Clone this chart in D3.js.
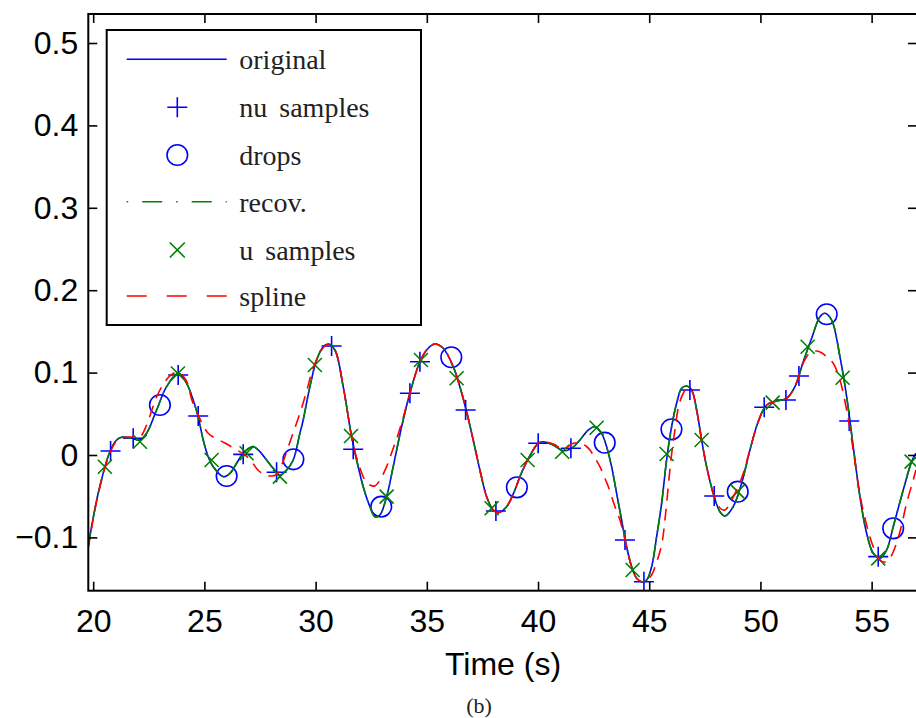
<!DOCTYPE html>
<html><head><meta charset="utf-8">
<script src="https://cdn.jsdelivr.net/npm/d3@7"></script>
<style>
html,body{margin:0;padding:0;background:#fff;}
svg{display:block;}
</style></head>
<body>
<svg id="chart" width="916" height="718"></svg>
<script>
// ---------- data ----------
const xTicks = [20, 25, 30, 35, 40, 45, 50, 55];
const yTicks = [-0.1, 0, 0.1, 0.2, 0.3, 0.4, 0.5];

const origT = [19.762,20.225,20.751,21.052,21.277,21.727,22.100,22.401,22.851,23.300,
23.822,24.200,24.496,24.721,24.946,25.171,25.396,25.845,26.147,26.448,
26.745,27.194,27.495,27.797,28.094,28.395,28.696,28.993,29.294,29.442,
29.744,30.045,30.342,30.567,30.868,31.241,31.619,31.844,32.140,32.442,
32.667,32.891,33.192,33.489,33.867,34.240,34.690,35.063,35.364,35.737,
36.187,36.488,36.790,37.086,37.387,37.689,37.986,38.210,38.588,38.961,
39.186,39.532,40.009,40.234,40.683,41.133,41.511,41.884,42.257,42.558,
42.860,43.084,43.309,43.534,43.759,43.984,44.209,44.434,44.658,44.883,
45.108,45.333,45.558,45.782,46.007,46.232,46.457,46.682,46.907,47.132,
47.356,47.581,47.878,48.179,48.404,48.777,49.155,49.528,49.901,50.279,
50.729,51.178,51.551,51.925,52.302,52.676,52.900,53.201,53.575,53.876,
54.173,54.474,54.775,55.072,55.373,55.674,55.971,56.421,56.798,56.992];
const origV = [-0.1129,-0.0465,0.0040,0.0182,0.0215,0.0203,0.0182,0.0263,0.0546,0.0829,
0.0992,0.0870,0.0667,0.0465,0.0182,-0.0021,-0.0142,-0.0263,-0.0222,-0.0101,
0.0021,0.0101,0.0040,-0.0061,-0.0161,-0.0243,-0.0182,-0.0061,0.0263,0.0425,
0.0829,0.1153,0.1314,0.1347,0.1274,0.0829,0.0222,-0.0061,-0.0385,-0.0627,
-0.0749,-0.0728,-0.0506,-0.0142,0.0343,0.0749,0.1132,0.1295,0.1347,0.1295,
0.1072,0.0829,0.0525,0.0182,-0.0182,-0.0506,-0.0667,-0.0700,-0.0627,-0.0425,
-0.0263,-0.0061,0.0142,0.0161,0.0121,0.0052,0.0081,0.0182,0.0303,0.0343,
0.0263,0.0101,-0.0142,-0.0465,-0.0789,-0.1113,-0.1356,-0.1496,-0.1538,-0.1517,
-0.1356,-0.0992,-0.0586,-0.0061,0.0343,0.0627,0.0809,0.0837,0.0789,0.0546,
0.0182,-0.0142,-0.0465,-0.0688,-0.0740,-0.0627,-0.0343,0.0061,0.0404,0.0607,
0.0655,0.0688,0.0829,0.1132,0.1416,0.1678,0.1720,0.1638,0.1193,0.0708,
0.0101,-0.0506,-0.0950,-0.1193,-0.1254,-0.1153,-0.0870,-0.0425,-0.0081,0.0021];

// recovered signal coincides with the original in the picture
const recovT = origT.slice();
const recovV = origV.slice();

const splT = [19.762,20.225,20.751,21.052,21.277,21.727,22.100,22.401,22.639,22.851,
23.134,23.449,23.808,24.168,24.438,24.663,24.933,25.157,25.472,25.922,
26.448,26.821,27.136,27.406,27.721,27.990,28.215,28.530,28.800,29.069,
29.370,29.609,29.834,30.104,30.374,30.599,30.868,31.241,31.619,31.844,
31.992,32.217,32.442,32.667,32.891,33.192,33.431,33.701,33.971,34.240,
34.690,35.050,35.364,35.737,36.187,36.488,36.790,37.086,37.387,37.689,
37.986,38.210,38.588,38.961,39.186,39.532,40.009,40.234,40.683,41.133,
41.583,41.884,42.154,42.334,42.558,42.783,42.963,43.163,43.459,43.684,
43.984,44.209,44.434,44.658,44.883,45.108,45.333,45.558,45.706,45.841,
45.976,46.156,46.336,46.561,46.741,46.921,47.132,47.356,47.581,47.878,
48.179,48.404,48.777,49.155,49.528,49.901,50.279,50.729,51.178,51.551,
51.925,52.226,52.527,52.766,53.035,53.274,53.575,53.876,54.173,54.474,
54.775,55.072,55.373,55.598,55.823,56.093,56.318,56.574,56.871,56.992];
const splV = [-0.1153,-0.0473,0.0024,0.0170,0.0206,0.0218,0.0218,0.0364,0.0546,0.0704,
0.0850,0.0959,0.1007,0.0910,0.0667,0.0522,0.0364,0.0267,0.0206,0.0146,
0.0061,0.0000,-0.0085,-0.0182,-0.0243,-0.0255,-0.0243,-0.0085,0.0121,0.0328,
0.0570,0.0789,0.1007,0.1189,0.1311,0.1347,0.1274,0.0829,0.0222,-0.0036,
-0.0158,-0.0303,-0.0364,-0.0376,-0.0303,-0.0142,0.0036,0.0243,0.0485,0.0752,
0.1129,0.1298,0.1347,0.1295,0.1072,0.0829,0.0525,0.0182,-0.0182,-0.0506,
-0.0667,-0.0700,-0.0627,-0.0425,-0.0263,-0.0061,0.0142,0.0161,0.0133,0.0073,
0.0142,0.0146,0.0109,0.0061,-0.0036,-0.0142,-0.0255,-0.0385,-0.0627,-0.0789,
-0.1113,-0.1356,-0.1496,-0.1538,-0.1517,-0.1456,-0.1299,-0.1092,-0.0789,-0.0425,
-0.0061,0.0303,0.0607,0.0765,0.0813,0.0777,0.0546,0.0182,-0.0142,-0.0465,
-0.0643,-0.0667,-0.0510,-0.0279,0.0061,0.0404,0.0607,0.0655,0.0688,0.0829,
0.1117,0.1238,0.1262,0.1238,0.1177,0.1113,0.0910,0.0546,0.0061,-0.0485,
-0.0850,-0.1113,-0.1274,-0.1299,-0.1250,-0.1092,-0.0886,-0.0583,-0.0303,-0.0182];

const nuT = [20.782,21.799,23.822,24.721,26.745,28.246,30.719,31.691,34.240,34.690,36.745,38.107,
40.009,41.479,43.909,44.762,46.830,47.923,50.171,51.147,51.731,53.993,55.297];
const nuV = [0.0049,0.0203,0.0971,0.0473,0.0008,-0.0210,0.1323,0.0069,0.0749,0.1132,0.0546,-0.0680,
0.0142,0.0081,-0.1032,-0.1538,0.0789,-0.0498,0.0579,0.0667,0.0959,0.0413,-0.1234];

const dropT = [23.0,26.0,29.0,32.95,36.1,39.05,43.0,46.0,48.98,52.98,55.97];
const dropV = [0.0607,-0.0255,-0.0052,-0.0627,0.1186,-0.0392,0.0149,0.0312,-0.0445,0.1708,-0.0890];

const uT = [20.526,22.100,23.808,25.324,26.897,28.395,29.968,31.592,33.192,34.735,36.340,37.914,
39.532,41.088,42.635,44.254,45.782,47.356,48.975,50.549,52.122,53.696,55.297,56.798];
const uV = [-0.0142,0.0161,0.0989,-0.0061,0.0021,-0.0263,0.1092,0.0231,-0.0506,0.1153,0.0931,-0.0647,
-0.0061,0.0040,0.0331,-0.1396,0.0012,0.0182,-0.0445,0.0635,0.1314,0.0938,-0.1254,-0.0081];

const legendLabels = ["original", "nu samples", "drops", "recov.", "u samples", "spline"];
const xLabel = "Time (s)";
const caption = "(b)";

// ---------- layout ----------
const L = 88.3, R = 917, T = 14, B = 590.7;
const BLUE = "#0000ff", GREEN = "#008000", RED = "#ff0000";
const sansFont = "'Liberation Sans', Arial, Helvetica, sans-serif";
const serifFont = "'Liberation Serif', 'Times New Roman', Times, serif";

const x = d3.scaleLinear().domain([19.78, 57.04]).range([L, R]);
const y = d3.scaleLinear().domain([-0.1647, 0.5352]).range([B, T]);

const svg = d3.select("#chart");
svg.append("rect").attr("width", 916).attr("height", 718).attr("fill", "#fff");

svg.append("defs").append("clipPath").attr("id", "clip")
  .append("rect").attr("x", L).attr("y", T).attr("width", R - L).attr("height", B - T);

const zip = (a, b) => a.map((v, i) => [v, b[i]]);
const line = d3.line().x(d => x(d[0])).y(d => y(d[1])).curve(d3.curveCatmullRom.alpha(0.5));

const plot = svg.append("g").attr("clip-path", "url(#clip)");

// original
plot.append("path").datum(zip(origT, origV)).attr("d", line)
  .attr("fill", "none").attr("stroke", BLUE).attr("stroke-width", 1.6);

const plusPath = s => `M${-s},0H${s}M0,${-s}V${s}`;
const crossPath = s => `M${-s},${-s}L${s},${s}M${-s},${s}L${s},${-s}`;

// nu samples
plot.append("g").selectAll("path").data(zip(nuT, nuV)).join("path")
  .attr("transform", d => `translate(${x(d[0])},${y(d[1])})`)
  .attr("d", plusPath(10)).attr("fill", "none").attr("stroke", BLUE).attr("stroke-width", 1.6);

// drops
plot.append("g").selectAll("circle").data(zip(dropT, dropV)).join("circle")
  .attr("cx", d => x(d[0])).attr("cy", d => y(d[1])).attr("r", 10.3)
  .attr("fill", "none").attr("stroke", BLUE).attr("stroke-width", 1.6);

// recovered
plot.append("path").datum(zip(recovT, recovV)).attr("d", line)
  .attr("fill", "none").attr("stroke", GREEN).attr("stroke-width", 1.6)
  .attr("stroke-dasharray", "16,5,2,5");

// u samples
plot.append("g").selectAll("path").data(zip(uT, uV)).join("path")
  .attr("transform", d => `translate(${x(d[0])},${y(d[1])})`)
  .attr("d", crossPath(7)).attr("fill", "none").attr("stroke", GREEN).attr("stroke-width", 1.6);

// spline
plot.append("path").datum(zip(splT, splV)).attr("d", line)
  .attr("fill", "none").attr("stroke", RED).attr("stroke-width", 1.6)
  .attr("stroke-dasharray", "12,8");

// ---------- axes ----------
function styleAxis(g) {
  g.select(".domain").remove();
  g.selectAll(".tick line").attr("stroke", "#000").attr("stroke-width", 1.6);
  g.selectAll(".tick text").attr("fill", "#000").style("font-family", sansFont).style("font-size", "32px");
}
svg.append("g").attr("transform", `translate(0,${B})`)
  .call(d3.axisBottom(x).tickValues(xTicks).tickSizeInner(-9).tickSizeOuter(0).tickPadding(19).tickFormat(d3.format("d")))
  .call(styleAxis);
svg.append("g").attr("transform", `translate(0,${T})`)
  .call(d3.axisTop(x).tickValues(xTicks).tickSizeInner(-9).tickSizeOuter(0).tickFormat(""))
  .call(styleAxis);
svg.append("g").attr("transform", `translate(${L},0)`)
  .call(d3.axisLeft(y).tickValues(yTicks).tickSizeInner(-9).tickSizeOuter(0).tickPadding(10)
    .tickFormat(d => d === 0 ? "0" : (d < 0 ? "\u2212" + Math.abs(d).toFixed(1) : d.toFixed(1))))
  .call(styleAxis);
svg.append("g").attr("transform", `translate(${R},0)`)
  .call(d3.axisRight(y).tickValues(yTicks).tickSizeInner(-9).tickSizeOuter(0).tickFormat(""))
  .call(styleAxis);

svg.append("rect").attr("x", L).attr("y", T).attr("width", R - L).attr("height", B - T)
  .attr("fill", "none").attr("stroke", "#000").attr("stroke-width", 2);

svg.append("text").attr("x", 503).attr("y", 675).attr("text-anchor", "middle")
  .style("font-family", sansFont).style("font-size", "32px").attr("fill", "#000").text(xLabel);

svg.append("text").attr("x", 479).attr("y", 713).attr("text-anchor", "middle")
  .style("font-family", serifFont).style("font-size", "22px").attr("fill", "#222").text(caption);

// ---------- legend ----------
const lg = svg.append("g");
lg.append("rect").attr("x", 106.7).attr("y", 30).attr("width", 314.3).attr("height", 295)
  .attr("fill", "#fff").attr("stroke", "#000").attr("stroke-width", 2);
const rowY = [59.3, 107.3, 155, 201.7, 250, 296];
const lx0 = 126.7, lx1 = 226.7, mx = 177.3, tx = 239.3;

lg.append("line").attr("x1", lx0).attr("x2", lx1).attr("y1", rowY[0]).attr("y2", rowY[0])
  .attr("stroke", BLUE).attr("stroke-width", 1.6);
lg.append("path").attr("transform", `translate(${mx},${rowY[1]})`).attr("d", plusPath(10))
  .attr("fill", "none").attr("stroke", BLUE).attr("stroke-width", 1.6);
lg.append("circle").attr("cx", mx).attr("cy", rowY[2]).attr("r", 10.3)
  .attr("fill", "none").attr("stroke", BLUE).attr("stroke-width", 1.6);
lg.append("line").attr("x1", lx0).attr("x2", lx1).attr("y1", rowY[3]).attr("y2", rowY[3])
  .attr("stroke", GREEN).attr("stroke-width", 1.6).attr("stroke-dasharray", "1.5,14,20,14");
lg.append("path").attr("transform", `translate(${mx},${rowY[4]})`).attr("d", crossPath(7.5))
  .attr("fill", "none").attr("stroke", GREEN).attr("stroke-width", 1.6);
lg.append("line").attr("x1", lx0).attr("x2", lx1).attr("y1", rowY[5]).attr("y2", rowY[5])
  .attr("stroke", RED).attr("stroke-width", 1.6).attr("stroke-dasharray", "20,20");

lg.selectAll("text.lab").data(legendLabels).join("text").attr("class", "lab")
  .attr("x", tx).attr("y", (d, i) => rowY[i] + 10)
  .style("font-family", serifFont).style("font-size", "28px").style("word-spacing", "5px")
  .attr("fill", "#222").text(d => d);
</script>
</body></html>
